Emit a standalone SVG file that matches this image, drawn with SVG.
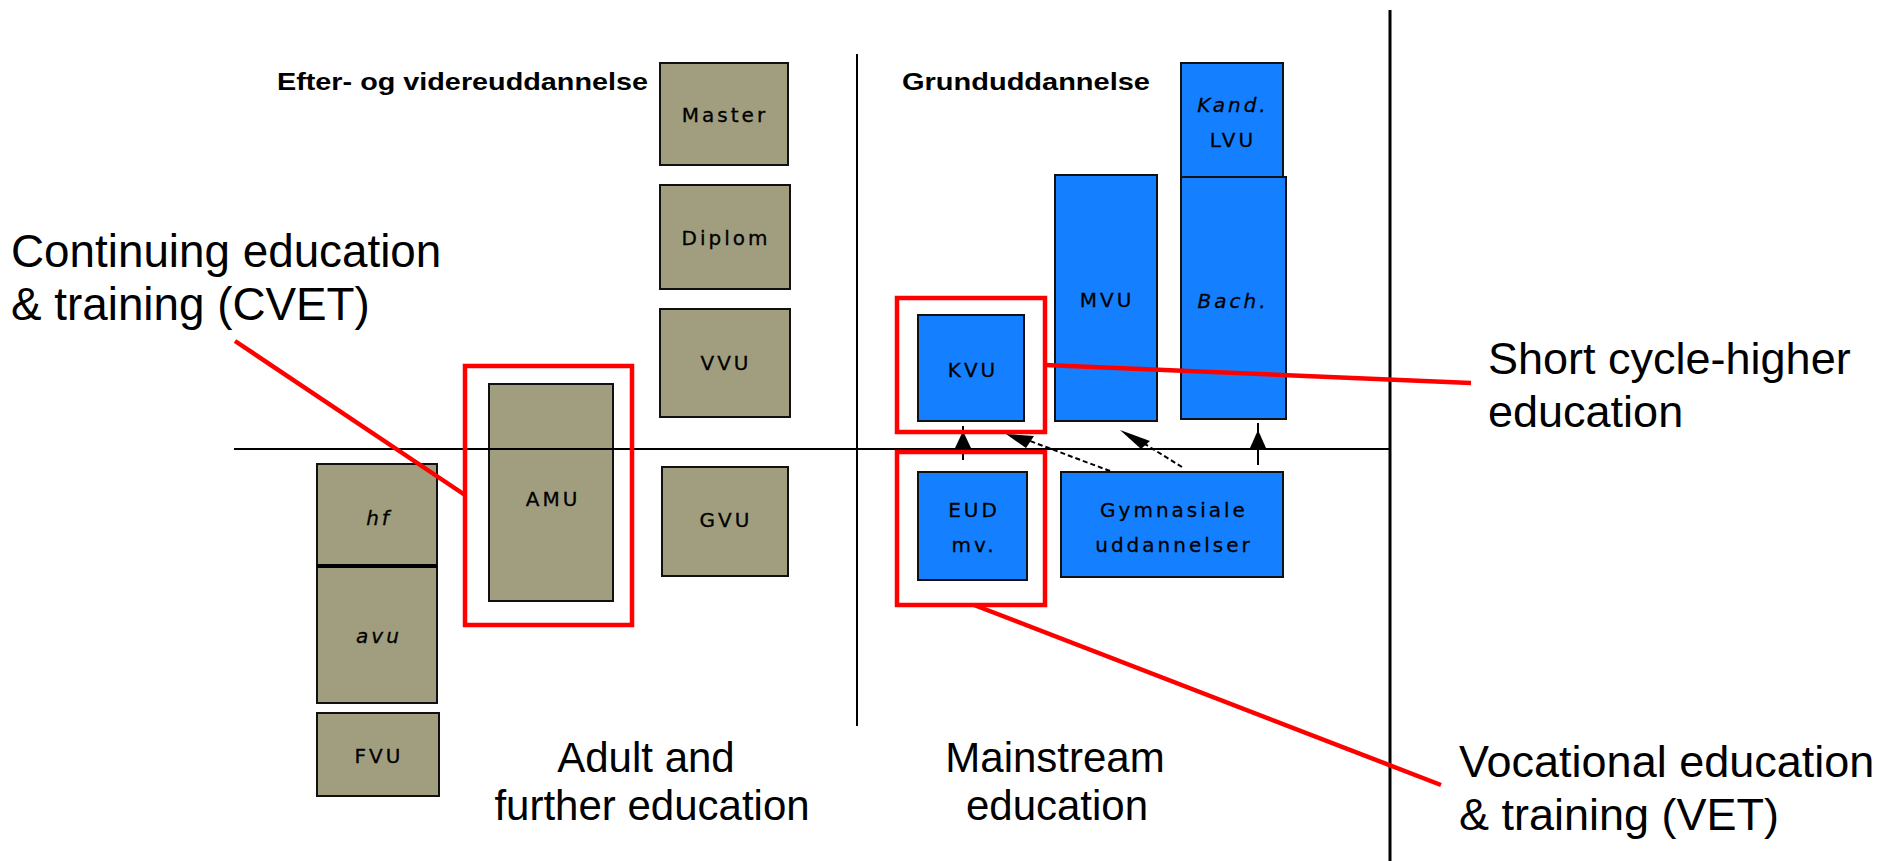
<svg xmlns="http://www.w3.org/2000/svg" width="1898" height="861" viewBox="0 0 1898 861">
<style>
.k{fill:#A09E7E;stroke:#111;stroke-width:2}
.b{fill:#1480FF;stroke:#111;stroke-width:2}
.t{font-family:"DejaVu Sans",sans-serif;font-size:20px;letter-spacing:3px;text-anchor:middle;fill:#000;stroke:#000;stroke-width:0.3}
.i{font-style:italic}
.h{font-family:"Liberation Sans",Arial,sans-serif;font-weight:bold;font-size:24px;fill:#000}
.big{font-family:"Liberation Sans",Arial,sans-serif;font-size:45px;fill:#000}
.mid{font-family:"Liberation Sans",Arial,sans-serif;font-size:42px;fill:#000;text-anchor:middle}
.red{fill:none;stroke:#FF0000;stroke-width:4.5}
.ax{stroke:#000;stroke-width:2;fill:none}
.ar{stroke:#000;stroke-width:2;fill:none}
.ds{stroke:#000;stroke-width:2;stroke-dasharray:5 3;fill:none}
.hd{fill:#000}
</style>
<rect width="1898" height="861" fill="#fff"/>

<g id="headers">
<text class="h" x="277" y="90" textLength="371" lengthAdjust="spacingAndGlyphs">Efter- og videreuddannelse</text>
<text class="h" x="902" y="90" textLength="248" lengthAdjust="spacingAndGlyphs">Grunduddannelse</text>
</g>

<g id="master"><rect class="k" x="660" y="63" width="128" height="102"/><text class="t" x="725" y="122">Master</text></g>
<g id="diplom"><rect class="k" x="660" y="185" width="130" height="104"/><text class="t" x="726" y="245">Diplom</text></g>
<g id="vvu"><rect class="k" x="660" y="309" width="130" height="108"/><text class="t" x="726" y="370">VVU</text></g>
<g id="gvu"><rect class="k" x="662" y="467" width="126" height="109"/><text class="t" x="726" y="527">GVU</text></g>
<g id="amu"><rect class="k" x="489" y="384" width="124" height="217"/><text class="t" x="553" y="506">AMU</text></g>
<g id="hf"><rect class="k" x="317" y="464" width="120" height="102"/><text class="t i" x="379" y="525">hf</text></g>
<g id="avu"><rect class="k" x="317" y="566" width="120" height="137"/><text class="t i" x="379" y="643">avu</text></g>
<line x1="317" y1="566" x2="437" y2="566" stroke="#000" stroke-width="4"/>
<g id="fvu"><rect class="k" x="317" y="713" width="122" height="83"/><text class="t" x="379" y="763">FVU</text></g>

<g id="kand"><rect class="b" x="1181" y="63" width="102" height="114"/><text class="t i" x="1233" y="112">Kand.</text><text class="t" x="1233" y="147">LVU</text></g>
<g id="bach"><rect class="b" x="1181" y="177" width="105" height="242"/><text class="t i" x="1233" y="308">Bach.</text></g>
<g id="mvu"><rect class="b" x="1055" y="175" width="102" height="246"/><text class="t" x="1107" y="307">MVU</text></g>
<g id="kvu"><rect class="b" x="918" y="315" width="106" height="106"/><text class="t" x="973" y="377">KVU</text></g>
<g id="eud"><rect class="b" x="918" y="472" width="109" height="108"/><text class="t" x="974" y="517">EUD</text><text class="t" x="974" y="552">mv.</text></g>
<g id="gym"><rect class="b" x="1061" y="472" width="222" height="105"/><text class="t" x="1174" y="517">Gymnasiale</text><text class="t" x="1174" y="552">uddannelser</text></g>

<g id="axes">
<line class="ax" x1="234" y1="449" x2="1390" y2="449"/>
<line class="ax" x1="857" y1="54" x2="857" y2="726"/>
<line x1="1390" y1="10" x2="1390" y2="861" stroke="#000" stroke-width="3"/>
</g>

<g id="connectors">
<line class="ar" x1="963" y1="460" x2="963" y2="426"/>
<polygon class="hd" points="963,431 971,448 955,448"/>
<line class="ds" x1="1110" y1="471" x2="1030" y2="441"/>
<polygon class="hd" points="1006,434 1034,436 1026,448"/>
<line class="ds" x1="1182" y1="467" x2="1140" y2="441"/>
<polygon class="hd" points="1120,430 1150,441 1141,449"/>
<line class="ar" x1="1258" y1="465" x2="1258" y2="423"/>
<polygon class="hd" points="1258,430 1266,448 1250,448"/>
</g>

<g id="highlights">
<rect class="red" x="465" y="366" width="167" height="259"/>
<rect class="red" x="897" y="298" width="148" height="134"/>
<rect class="red" x="897" y="452" width="148" height="153"/>
<line class="red" x1="235" y1="341" x2="465" y2="495"/>
<line class="red" x1="1045" y1="365" x2="1471" y2="383"/>
<line class="red" x1="974" y1="605" x2="1441" y2="785"/>
</g>

<g id="labels">
<text class="big" x="11" y="267" style="font-size:45.8px">Continuing education</text>
<text class="big" x="11" y="320" style="font-size:45.8px">&amp; training (CVET)</text>
<text class="big" x="1488" y="374">Short cycle-higher</text>
<text class="big" x="1488" y="427">education</text>
<text class="big" x="1459" y="777">Vocational education</text>
<text class="big" x="1459" y="830">&amp; training (VET)</text>
<text class="mid" x="646" y="772">Adult and</text>
<text class="mid" x="652" y="820">further education</text>
<text class="mid" x="1055" y="772">Mainstream</text>
<text class="mid" x="1057" y="820">education</text>
</g>
</svg>
